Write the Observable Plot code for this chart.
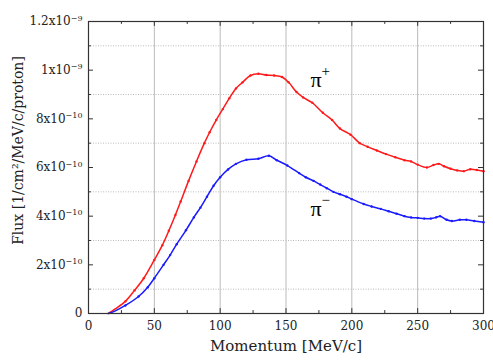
<!DOCTYPE html>
<html><head><meta charset="utf-8">
<script src="https://cdn.jsdelivr.net/npm/d3@7"></script>
<script src="https://cdn.jsdelivr.net/npm/@observablehq/plot@0.6"></script>
<style>body{margin:0;background:#fff}</style>
</head><body><div id="chart"></div>
<script>
// Momentum [MeV/c] and flux in units of 1e-10 /cm²/MeV/c/proton
const momentumPlus = [15,20,28,35,42,50,56,61,66,70,76,82,88,92,97,102,107,112,117,123,129,135,141,147,152,158,163,170,178,185,191,199,206,212,219,226,233,240,245,250,257,262,266,270,275,280,285,290,295,300];
const fluxPlus = [0,0.18,0.5,0.95,1.45,2.2,2.8,3.4,4.05,4.6,5.45,6.25,7.0,7.45,7.95,8.4,8.85,9.25,9.5,9.78,9.85,9.8,9.78,9.72,9.5,9.1,8.88,8.66,8.25,7.95,7.6,7.35,7.0,6.85,6.7,6.55,6.42,6.3,6.25,6.12,6.0,6.1,6.15,6.05,5.95,5.88,5.85,5.93,5.9,5.85];
const momentumMinus = [15,20,28,38,45,50,57,62,67,74,80,85,90,95,100,106,112,120,129,137,143,151,160,165,171,176,181,186,191,196,200,209,215,222,228,234,240,245,250,255,260,264,267,272,276,282,287,293,300];
const fluxMinus = [0,0.1,0.33,0.7,1.08,1.45,2.0,2.4,2.85,3.42,3.95,4.35,4.8,5.25,5.6,5.92,6.15,6.32,6.36,6.48,6.3,6.08,5.77,5.6,5.45,5.3,5.15,5.0,4.9,4.8,4.7,4.5,4.4,4.3,4.2,4.1,4.0,3.95,3.93,3.9,3.9,3.95,4.0,3.85,3.8,3.85,3.85,3.8,3.75];
const xMajor = [0,50,100,150,200,250,300];
const xMinor = [25,75,125,175,225,275];
const xGrid = [50,100,150,200,250];
const yMajor = [0,2,4,6,8,10,12];
const yLabels = ["0","2x10^-10","4x10^-10","6x10^-10","8x10^-10","1x10^-9","1.2x10^-9"];
const yMinor = [1,3,5,7,9,11];
const seriesLabels = [{x:176, y:9.6, name:"π^+"},{x:176, y:4.3, name:"π^−"}];

const plus = momentumPlus.map((m,i)=>({m, f:fluxPlus[i]}));
const minus = momentumMinus.map((m,i)=>({m, f:fluxMinus[i]}));
const RED = "#ff1a1a", BLUE = "#1a1aff";
const font = "'DejaVu Serif', serif";

const plot = Plot.plot({
  width: 493, height: 361,
  marginLeft: 88, marginRight: 10, marginTop: 21, marginBottom: 48,
  style: {fontFamily: font, fontSize: "11px", color: "#222", background: "#fff"},
  x: {domain: [0,300]},
  y: {domain: [0,12]},
  marks: [
    Plot.ruleX(xGrid, {stroke: "#bbb", strokeWidth: 1}),
    Plot.ruleY(yMinor, {stroke: "#bbb", strokeDasharray: "1,1.5", strokeWidth: 1}),
    Plot.line(plus, {x: "m", y: "f", stroke: RED, strokeWidth: 1.5, curve: "catmull-rom"}),
    Plot.dot(plus.slice(2), {x: "m", y: "f", fill: RED, r: 1.2}),
    Plot.line(minus, {x: "m", y: "f", stroke: BLUE, strokeWidth: 1.5, curve: "catmull-rom"}),
    Plot.dot(minus.slice(2), {x: "m", y: "f", fill: BLUE, r: 1.2}),
    // inward ticks
    Plot.ruleY(yMajor, {x1: 0, x2: 3.8, stroke: "#333"}),
    Plot.ruleY(yMinor, {x1: 0, x2: 2.2, stroke: "#333"}),
    Plot.ruleY(yMajor, {x1: 300, x2: 296.2, stroke: "#333"}),
    Plot.ruleY(yMinor, {x1: 300, x2: 297.8, stroke: "#333"}),
    Plot.ruleX(xMajor, {y1: 0, y2: 0.2, stroke: "#333"}),
    Plot.ruleX(xMinor, {y1: 0, y2: 0.12, stroke: "#333"}),
    Plot.ruleX(xMajor, {y1: 12, y2: 11.8, stroke: "#333"}),
    Plot.ruleX(xMinor, {y1: 12, y2: 11.88, stroke: "#333"}),
    Plot.frame({stroke: "#333", strokeWidth: 1.2}),
    Plot.axisX(xMajor, {tickSize: 0, tickPadding: 8, label: null, fontSize: 12}),
    Plot.axisY(yMajor, {tickSize: 0, tickPadding: 6, label: null, fontSize: 12,
      tickFormat: d => yLabels[yMajor.indexOf(d)]}),
    Plot.text(["Momentum [MeV/c]"], {frameAnchor: "bottom", dy: 37, fontSize: 15, fill: "#222"}),
    Plot.text(["Flux [1/cm²/MeV/c/proton]"], {frameAnchor: "left", textAnchor: "middle", dx: -70, dy: -17, rotate: -90, fontSize: 14, fill: "#222"}),
    Plot.text(seriesLabels, {x: "x", y: "y", text: "name", fontSize: 22, fill: "#000", fontFamily: "'Liberation Serif', serif"})
  ]
});

// render exponents as superscripts
d3.select(plot).selectAll("text").each(function() {
  const t = this.textContent;
  if (t.includes("^")) {
    const [base, exp] = t.split("^");
    const big = base.startsWith("π");
    const sel = d3.select(this);
    sel.text(null);
    sel.append("tspan").text(base);
    sel.append("tspan")
      .attr("dy", big ? "-0.75em" : "-0.6em")
      .attr("font-size", big ? "15px" : "8px")
      .text(exp.replace("-", "−"));
  }
});
document.getElementById("chart").append(plot);
</script>
</body></html>
